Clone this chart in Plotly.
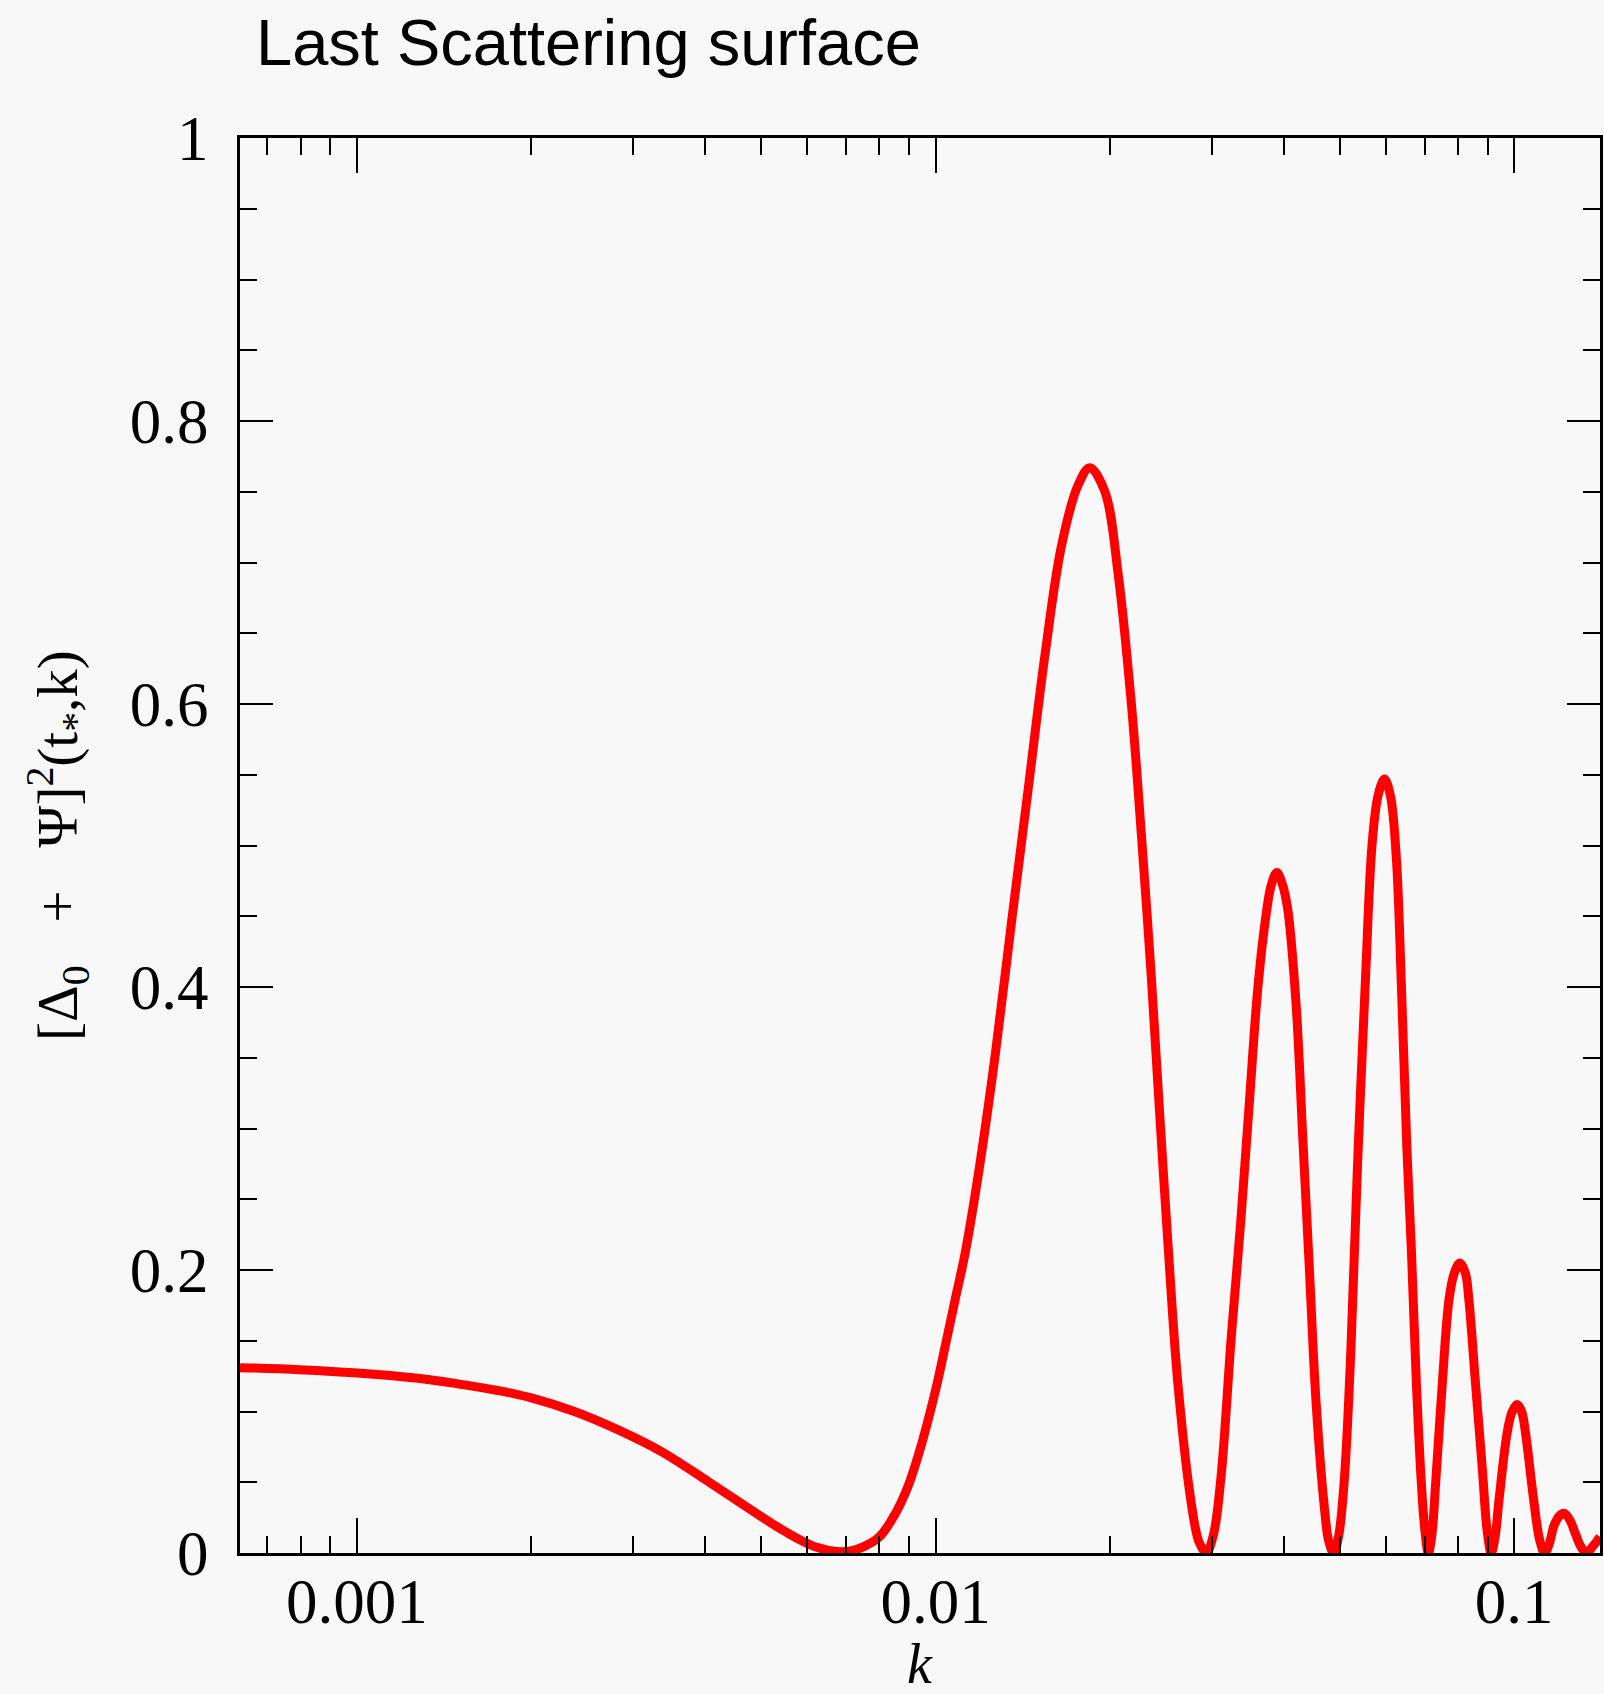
import math
import plotly.graph_objects as go

# ---- data ----
k_values = [
    0.000628, 0.000797, 0.001070, 0.001336, 0.001523, 0.001743, 0.001987, 0.002376,
    0.002829, 0.003383, 0.004045, 0.004817, 0.005278, 0.005759, 0.006235, 0.006752,
    0.007137, 0.007515, 0.008000, 0.008401, 0.008703, 0.009000, 0.009460, 0.01000,
    0.01039, 0.01081, 0.01125, 0.01186, 0.01268, 0.01354, 0.01447, 0.01546,
    0.01651, 0.01765, 0.01848, 0.01962, 0.02068, 0.02180, 0.02268, 0.02360,
    0.02440, 0.02522, 0.02624, 0.02767, 0.02852, 0.02936, 0.03021, 0.03116,
    0.03243, 0.03374, 0.03488, 0.03605, 0.03726, 0.03803, 0.03888, 0.03973,
    0.04061, 0.04198, 0.04311, 0.04426, 0.04545, 0.04699, 0.04780, 0.04875,
    0.04973, 0.05087, 0.05222, 0.05362, 0.05534, 0.05679, 0.05816, 0.05968,
    0.06112, 0.06259, 0.06385, 0.06526, 0.06643, 0.06776, 0.06912, 0.07009,
    0.07107, 0.07208, 0.07315, 0.07513, 0.07715, 0.07881, 0.08057, 0.08233,
    0.08350, 0.08573, 0.08803, 0.08984, 0.09128, 0.09274, 0.09411, 0.09725,
    0.09921, 0.1012, 0.1030, 0.1046, 0.1081, 0.1107, 0.1129, 0.1149,
    0.1171, 0.1196, 0.1221, 0.1249, 0.1275, 0.1302, 0.1333, 0.1369,
    0.1407,
]
power_values = [
    0.131, 0.1295, 0.1263, 0.1225, 0.119, 0.115, 0.110, 0.100,
    0.087, 0.071, 0.0505, 0.0300, 0.0195, 0.0105, 0.004, 0.001,
    0.0015, 0.0045, 0.0115, 0.0235, 0.035, 0.049, 0.077, 0.115,
    0.146, 0.179, 0.212, 0.268, 0.352, 0.447, 0.541, 0.635,
    0.712, 0.755, 0.767, 0.750, 0.692, 0.600, 0.508, 0.407,
    0.310, 0.218, 0.119, 0.035, 0.008, 0.000, 0.0126, 0.055,
    0.152, 0.238, 0.320, 0.399, 0.451, 0.472, 0.481, 0.473,
    0.455, 0.388, 0.294, 0.201, 0.107, 0.032, 0.0085, 0.000,
    0.012, 0.052, 0.144, 0.275, 0.406, 0.500, 0.535, 0.547,
    0.535, 0.490, 0.400, 0.285, 0.214, 0.120, 0.049, 0.016,
    0.000, 0.013, 0.049, 0.120, 0.179, 0.198, 0.205, 0.198,
    0.179, 0.120, 0.061, 0.015, 0.000, 0.012, 0.037, 0.085,
    0.100, 0.105, 0.100, 0.085, 0.037, 0.009, 0.000, 0.006,
    0.019, 0.026, 0.028, 0.023, 0.014, 0.005, 0.000, 0.005,
    0.0115,
]

x_major_ticks = [0.001, 0.01, 0.1]
x_major_labels = ["0.001", "0.01", "0.1"]
x_minor_ticks = [0.0007, 0.0008, 0.0009,
                 0.002, 0.003, 0.004, 0.005, 0.006, 0.007, 0.008, 0.009,
                 0.02, 0.03, 0.04, 0.05, 0.06, 0.07, 0.08, 0.09]
y_major_ticks = [0, 0.2, 0.4, 0.6, 0.8, 1]
y_major_labels = ["0", "0.2", "0.4", "0.6", "0.8", "1"]

x_range = [0.000628, 0.1407]
y_range = [0, 1]

title_text = "Last Scattering surface"
x_title = "<i>k</i>"
y_title = ("[&#916;<sub>0</sub>&nbsp;&nbsp;&nbsp;+&nbsp;&nbsp;&nbsp;&#936;]"
           "<sup>2</sup>(t<sub>*</sub>,k)")

BG = "#f8f8f8"
SERIF = "Liberation Serif"

fig = go.Figure()
fig.add_trace(go.Scatter(
    x=k_values, y=power_values, mode="lines",
    line=dict(color="#ff0000", width=9, shape="spline", smoothing=1.0),
    hoverinfo="skip", showlegend=False,
))

W, H = 1604, 1694
L, R, T, B = 240, 1, 138, 141
pw = W - L - R
ph = H - T - B

fig.update_layout(
    width=W, height=H,
    margin=dict(l=L, r=R, t=T, b=B, pad=0),
    paper_bgcolor=BG, plot_bgcolor=BG,
    showlegend=False,
    title=dict(text=title_text, x=256 / W, xanchor="left", xref="container",
               y=1 - 42 / H, yanchor="middle", yref="container",
               font=dict(family="Liberation Sans", size=65, color="black")),
    xaxis=dict(
        type="log", range=[math.log10(x_range[0]), math.log10(x_range[1])],
        showgrid=False, zeroline=False,
        showline=True, linecolor="black", linewidth=3, mirror="ticks",
        ticks="inside", ticklen=35, tickwidth=2, tickcolor="black",
        tickmode="array", tickvals=x_major_ticks, ticktext=x_major_labels,
        tickfont=dict(family=SERIF, size=63, color="black"),
        ticklabelstandoff=-9,
        minor=dict(tickmode="array", tickvals=x_minor_ticks, ticks="inside",
                   ticklen=17, tickwidth=2, tickcolor="black", showgrid=False),
    ),
    yaxis=dict(
        range=y_range,
        showgrid=False, zeroline=False,
        showline=True, linecolor="black", linewidth=3, mirror="ticks",
        ticks="inside", ticklen=33, tickwidth=2, tickcolor="black",
        tickmode="array", tickvals=y_major_ticks, ticktext=y_major_labels,
        tickfont=dict(family=SERIF, size=63, color="black"),
        ticklabelstandoff=16,
        minor=dict(dtick=0.05, ticks="inside", ticklen=17, tickwidth=2,
                   tickcolor="black", showgrid=False),
    ),
    annotations=[
        dict(text=x_title, xref="paper", yref="paper",
             x=(922 - L) / pw, y=(T + ph - 1697) / ph,
             xanchor="center", yanchor="bottom", showarrow=False,
             font=dict(family=SERIF, size=56, color="black")),
        dict(text=y_title, xref="paper", yref="paper",
             x=(57 - L) / pw, y=0.5, textangle=-90,
             xanchor="center", yanchor="middle", showarrow=False,
             font=dict(family=SERIF, size=57, color="black")),
    ],
)

fig.write_html(
    "out.html",
    config={"displayModeBar": False},
    post_script="document.body.style.margin='0';document.body.style.padding='0';"
                "document.body.style.overflow='hidden';",
)
